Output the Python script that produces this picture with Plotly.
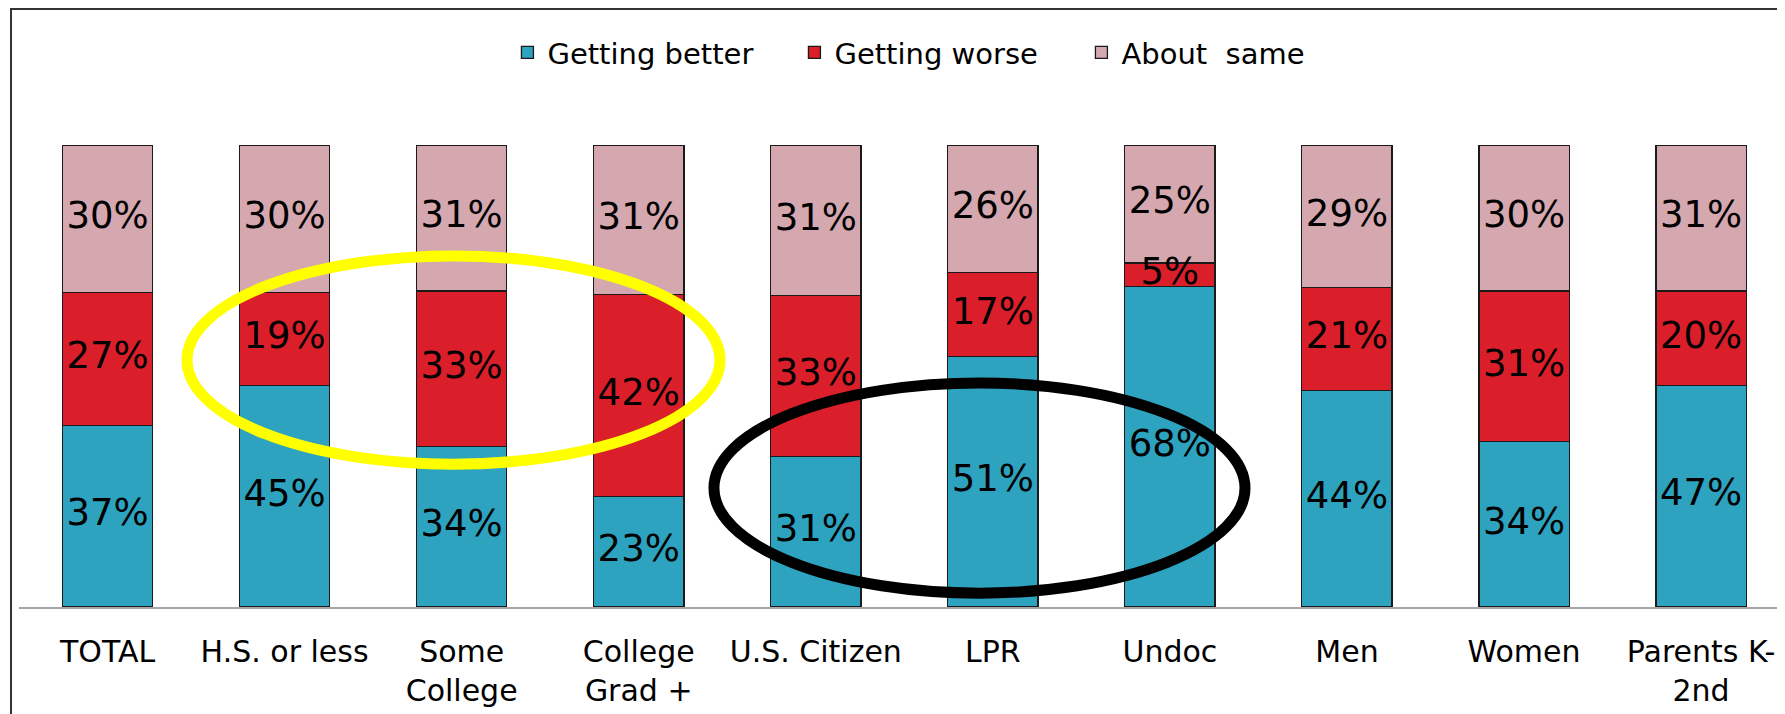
import numpy as np
import plotly.graph_objects as go

categories = ["TOTAL", "H.S. or less", "Some<br>College", "College<br>Grad +", "U.S. Citizen",
              "LPR", "Undoc", "Men", "Women", "Parents K-<br>2nd"]
better = [37, 45, 34, 23, 31, 51, 68, 44, 34, 47]
worse = [27, 19, 33, 42, 33, 17, 5, 21, 31, 20]
same = [30, 30, 31, 31, 31, 26, 25, 29, 30, 31]
series_names = ["Getting better", "Getting worse", "About  same"]
colors = ["#2DA3BF", "#DA1F2A", "#D5A7AF"]

FONT = "DejaVu Sans"
xs = list(range(len(categories)))

fig = go.Figure()
for name, vals, col in zip(series_names, [better, worse, same], colors):
    fig.add_trace(go.Bar(
        x=xs, y=vals, name=name,
        marker=dict(color=col, line=dict(color="#1a1a1a", width=1.3)),
        hoverinfo="skip",
    ))

# label positions: middle of each normalized segment
arr = np.array([better, worse, same], dtype=float)
tot = arr.sum(axis=0)
norm = arr / tot * 100
cum = np.cumsum(norm, axis=0)
mid = cum - norm / 2
for i, vals in enumerate([better, worse, same]):
    fig.add_trace(go.Scatter(
        x=xs, y=mid[i], mode="text",
        text=[f"{v}%" for v in vals],
        textfont=dict(family=FONT, size=37, color="black"),
        showlegend=False, hoverinfo="skip", cliponaxis=False,
    ))

fig.update_layout(
    width=1785, height=714,
    barmode="stack", barnorm="percent", bargap=0.49,
    paper_bgcolor="white", plot_bgcolor="white",
    margin=dict(l=11, r=0, t=137, b=115),
    font=dict(family=FONT, color="black"),
    legend=dict(orientation="h", x=0.518, xanchor="center", y=1.2, yanchor="middle",
                font=dict(family=FONT, size=29, color="black"), traceorder="normal",
                entrywidth=242, entrywidthmode="pixels", itemclick=False),
    xaxis=dict(tickmode="array", tickvals=xs, ticktext=categories,
               range=[-0.5, 9.519], showline=True, linecolor="#a6a6a6", linewidth=2,
               showgrid=False, zeroline=False, ticks="outside", ticklen=17,
               tickcolor="rgba(0,0,0,0)", tickfont=dict(family=FONT, size=30, color="black")),
    yaxis=dict(range=[0, 100], visible=False, showgrid=False, zeroline=False),
    showlegend=True,
)

# outer frame
fig.add_shape(type="rect", xref="paper", yref="paper",
              x0=-0.0045, x1=1.02, y0=-0.3, y1=(462 + 136) / 462,
              line=dict(color="#333333", width=2), layer="above")

# highlight ellipses
fig.add_shape(type="circle", xref="x", yref="y", x0=0.449, x1=3.459, y0=30.9, y1=76.0,
              line=dict(color="#FFFF00", width=11), layer="above")
fig.add_shape(type="circle", xref="x", yref="y", x0=3.425, x1=6.424, y0=3.0, y1=48.5,
              line=dict(color="black", width=11), layer="above")

fig.write_html("out.html")
